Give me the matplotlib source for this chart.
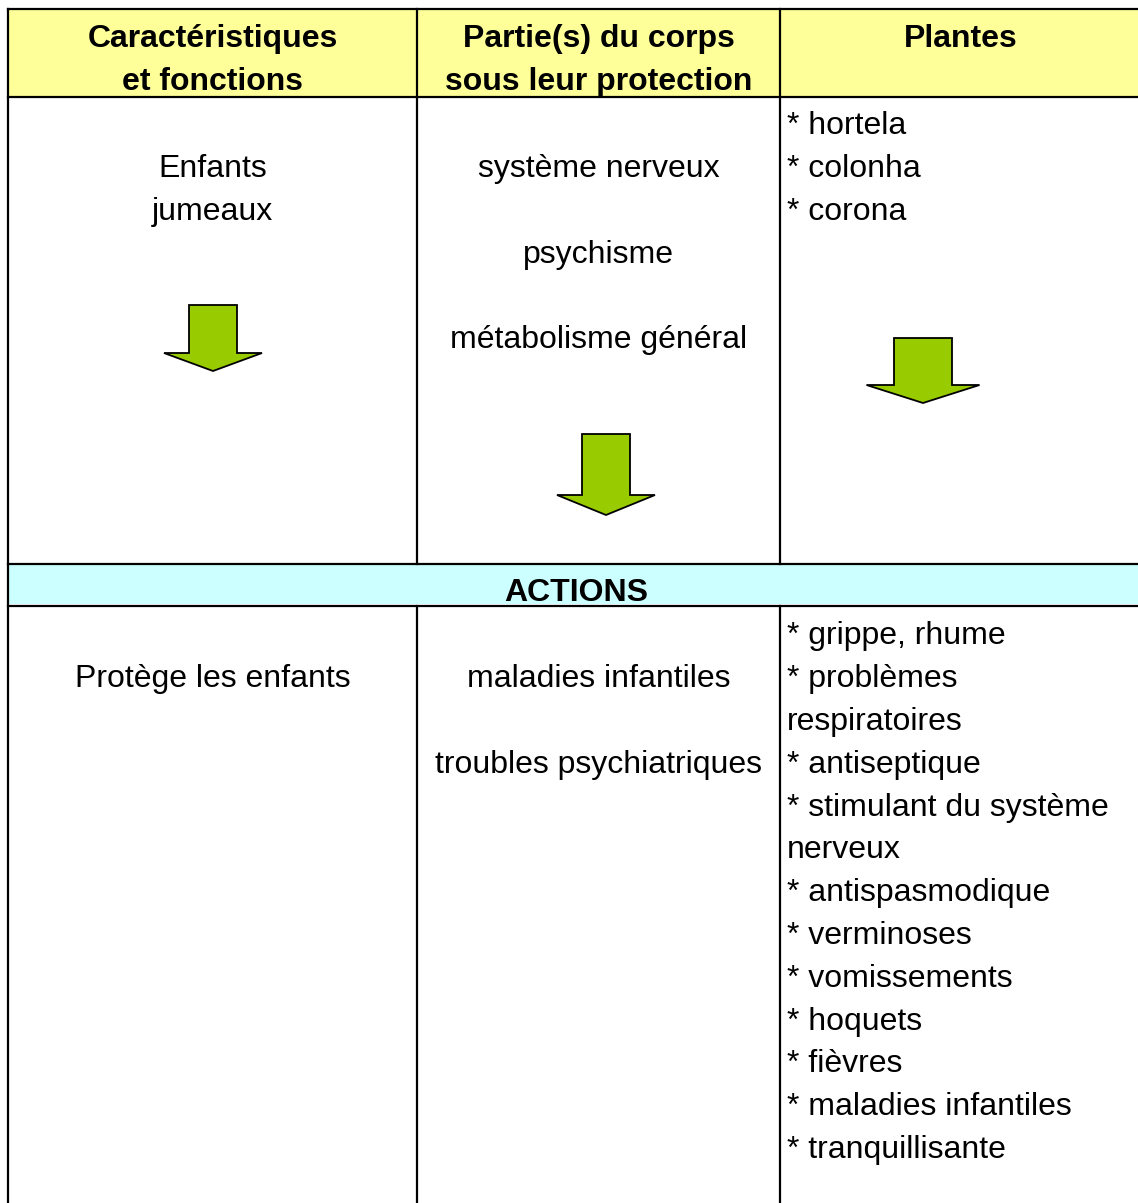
import matplotlib.pyplot as plt
from matplotlib.patches import Polygon, Rectangle

plt.rcParams['font.family'] = ['Liberation Sans', 'DejaVu Sans']

W, H = 1138, 1203
YELLOW = '#FFFF99'
CYAN = '#CCFFFF'
GREEN = '#99CC00'

# table content
headers = [["Caractéristiques", "et fonctions"],
           ["Partie(s) du corps", "sous leur protection"],
           ["Plantes"]]
section = "ACTIONS"

top_col1 = ["Enfants", "jumeaux"]
top_col2 = ["système nerveux", "psychisme", "métabolisme général"]
top_col3 = ["* hortela", "* colonha", "* corona"]

act_col1 = ["Protège les enfants"]
act_col2 = ["maladies infantiles", "troubles psychiatriques"]
act_col3 = ["* grippe, rhume", "* problèmes", "respiratoires", "* antiseptique",
            "* stimulant du système", "nerveux", "* antispasmodique",
            "* verminoses", "* vomissements", "* hoquets", "* fièvres",
            "* maladies infantiles", "* tranquillisante"]

fig = plt.figure(figsize=(W / 100, H / 100), dpi=100)
ax = fig.add_axes([0, 0, 1, 1])
ax.set_xlim(0, W)
ax.set_ylim(H, 0)
ax.axis('off')

xl, x1, x2 = 8.5, 417, 780
y_top, y_head, y_sec0, y_sec1 = 9, 97, 563.5, 606
FS = 23
LINE = 42.8
CAP = 11.4

# fills
ax.add_patch(Rectangle((xl, y_top), W - xl, y_head - y_top, color=YELLOW, lw=0))
ax.add_patch(Rectangle((xl, y_sec0), W - xl, 40.5, color=CYAN, lw=0))

lw = 1.6
ax.plot([xl, W], [y_top, y_top], color='black', lw=lw)
ax.plot([xl, W], [y_head, y_head], color='black', lw=lw)
ax.plot([xl, W], [y_sec0, y_sec0], color='black', lw=lw)
ax.plot([xl, W], [y_sec1, y_sec1], color='black', lw=lw)
ax.plot([xl, xl], [y_top, H], color='black', lw=lw)
for x in (x1, x2):
    ax.plot([x, x], [y_top, y_sec0], color='black', lw=lw)
    ax.plot([x, x], [y_sec1, H], color='black', lw=lw)

c1 = (xl + x1) / 2
c2 = (x1 + x2) / 2
c3l = 787


def put(x, y, s, ha='center', bold=False):
    ax.text(x, y + CAP, s, ha=ha, va='baseline', fontsize=FS,
            fontweight='bold' if bold else 'normal', color='black')


# header
for i, s in enumerate(headers[0]):
    put(c1, 36 + i * LINE, s, bold=True)
for i, s in enumerate(headers[1]):
    put(c2, 36 + i * LINE, s, bold=True)
put((x2 + W) / 2 + 2, 36, headers[2][0], bold=True)

# upper body
for i, s in enumerate(top_col1):
    put(c1, 166 + i * LINE, s)
for i, s in enumerate(top_col2):
    put(c2, 166 + i * 85.5, s)
for i, s in enumerate(top_col3):
    put(c3l, 123 + i * LINE, s, ha='left')


def arrow(cx, top, shoulder, tip, sw, hw):
    pts = [(cx - sw / 2, top), (cx + sw / 2, top), (cx + sw / 2, shoulder),
           (cx + hw / 2, shoulder), (cx, tip), (cx - hw / 2, shoulder),
           (cx - sw / 2, shoulder)]
    ax.add_patch(Polygon(pts, closed=True, facecolor=GREEN, edgecolor='black', lw=1.3))


arrow(213, 305, 353, 371, 48, 98)
arrow(606, 434, 495, 515, 48, 98)
arrow(923, 338, 385, 403, 58, 113)

# section band
put(576, 590, section, bold=True)

# actions
for i, s in enumerate(act_col1):
    put(c1, 676 + i * LINE, s)
for i, s in enumerate(act_col2):
    put(c2, 676 + i * 86, s)
for i, s in enumerate(act_col3):
    put(c3l, 633 + i * LINE, s, ha='left')

fig.savefig('out.png', dpi=100)
